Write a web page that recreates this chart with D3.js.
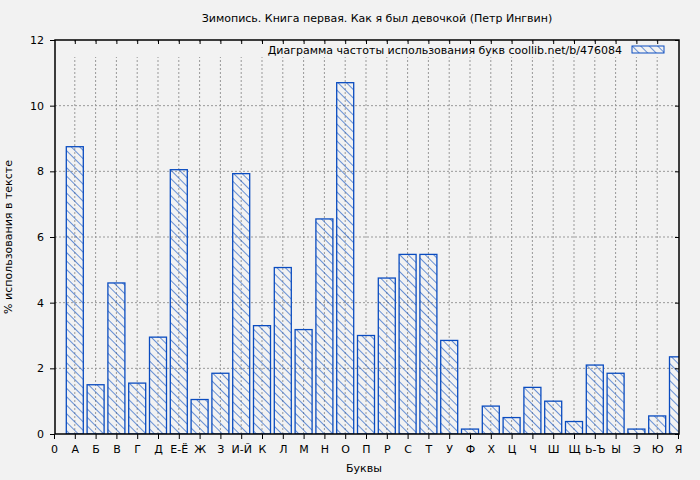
<!DOCTYPE html>
<html><head><meta charset="utf-8">
<script src="https://cdn.jsdelivr.net/npm/d3@7"></script>
<style>body{margin:0;background:#f2f2f2;}text{font-family:"DejaVu Sans",sans-serif;fill:#000;}</style>
</head><body><svg class="canvas"></svg>
<script>
var letters = ["0","А","Б","В","Г","Д","Е-Ё","Ж","З","И-Й","К","Л","М","Н","О","П","Р","С","Т","У","Ф","Х","Ц","Ч","Ш","Щ","Ь-Ъ","Ы","Э","Ю","Я"];
var values = [null,8.75,1.5,4.6,1.55,2.95,8.05,1.05,1.85,7.93,3.3,5.07,3.18,6.55,10.7,3.0,4.75,5.47,5.47,2.85,0.15,0.85,0.5,1.42,1.0,0.38,2.1,1.85,0.15,0.55,2.35];
var yTicks = [0,2,4,6,8,10,12];

var width = 700, height = 480;
var L = 55, R = 679, T = 40, B = 434;
var BLUE = "#0a4cc0";

var svg = d3.select(".canvas").attr("width",width).attr("height",height);
svg.append("rect").attr("width",width).attr("height",height).attr("fill","#f2f2f2");

var defs = svg.append("defs");
var pat = defs.append("pattern").attr("id","hatch").attr("patternUnits","userSpaceOnUse")
	.attr("width",6).attr("height",6).attr("patternTransform","rotate(-45)");
pat.append("line").attr("x1",0).attr("y1",0).attr("x2",0).attr("y2",6)
	.attr("stroke",BLUE).attr("stroke-width",1.2);
defs.append("clipPath").attr("id","plot").append("rect")
	.attr("x",L).attr("y",T).attr("width",R-L).attr("height",B-T);

var x = d3.scaleLinear().domain([0,letters.length-1]).range([L-1,R-1]);
var y = d3.scaleLinear().domain([0,12]).range([B,T]);

// grid
svg.append("g").selectAll("line").data(d3.range(1,letters.length-1)).enter().append("line")
	.attr("x1",function(i){return x(i);}).attr("x2",function(i){return x(i);})
	.attr("y1",T).attr("y2",B)
	.attr("stroke","#999").attr("stroke-dasharray","2,2");
svg.append("g").selectAll("line").data(yTicks.slice(1,-1)).enter().append("line")
	.attr("x1",L).attr("x2",R).attr("y1",function(d){return y(d);}).attr("y2",function(d){return y(d);})
	.attr("stroke","#999").attr("stroke-dasharray","2,2");
// legend area cover
svg.append("rect").attr("x",L+1).attr("y",T+4).attr("width",R-L-2).attr("height",13).attr("fill","#f2f2f2");

// bars
var bw = 17;
svg.append("g").attr("clip-path","url(#plot)").selectAll("rect")
	.data(values.map(function(v,i){return {i:i,v:v};}).filter(function(d){return d.v!==null;}))
	.enter().append("rect")
	.attr("x",function(d){return x(d.i)-bw/2;})
	.attr("y",function(d){return y(d.v);})
	.attr("width",bw).attr("height",function(d){return B-y(d.v);})
	.attr("fill","url(#hatch)").attr("stroke",BLUE).attr("stroke-width",1.3);

// frame
svg.append("rect").attr("x",L).attr("y",T).attr("width",R-L).attr("height",B-T)
	.attr("fill","none").attr("stroke","#000").attr("stroke-width",1.5);

// axes
var xa = svg.append("g").attr("transform","translate(0,"+B+")")
	.call(d3.axisBottom(x).tickValues(d3.range(letters.length)).tickFormat(function(i){return letters[i];}).tickSize(5).tickPadding(6));
var ya = svg.append("g").attr("transform","translate("+L+",0)")
	.call(d3.axisLeft(y).tickValues(yTicks).tickFormat(d3.format("d")).tickSize(5).tickPadding(6));
svg.append("g").attr("transform","translate(0,"+T+")")
	.call(d3.axisTop(x).tickValues(d3.range(1,letters.length-1)).tickSize(-4).tickFormat(""));
svg.append("g").attr("transform","translate("+R+",0)")
	.call(d3.axisRight(y).tickValues(yTicks).tickSize(-4).tickFormat(""));
svg.selectAll(".domain").remove();
svg.selectAll(".tick line").attr("stroke","#000");
svg.selectAll(".tick text").attr("font-size",11).attr("font-family","DejaVu Sans");

// texts
svg.append("text").attr("x",(L+R)/2+10).attr("y",22).attr("text-anchor","middle").attr("font-size",11)
	.text("Зимопись. Книга первая. Как я был девочкой (Петр Ингвин)");
svg.append("text").attr("x",364).attr("y",472).attr("text-anchor","middle").attr("font-size",11).text("Буквы");
svg.append("text").attr("transform","translate(12,237) rotate(-90)").attr("text-anchor","middle").attr("font-size",11)
	.text("% использования в тексте");
svg.append("text").attr("x",622).attr("y",54).attr("text-anchor","end").attr("font-size",11)
	.text("Диаграмма частоты использования букв  coollib.net/b/476084");
svg.append("rect").attr("x",632).attr("y",46).attr("width",32).attr("height",7)
	.attr("fill","url(#hatch)").attr("stroke",BLUE).attr("stroke-width",1);
</script></body></html>
